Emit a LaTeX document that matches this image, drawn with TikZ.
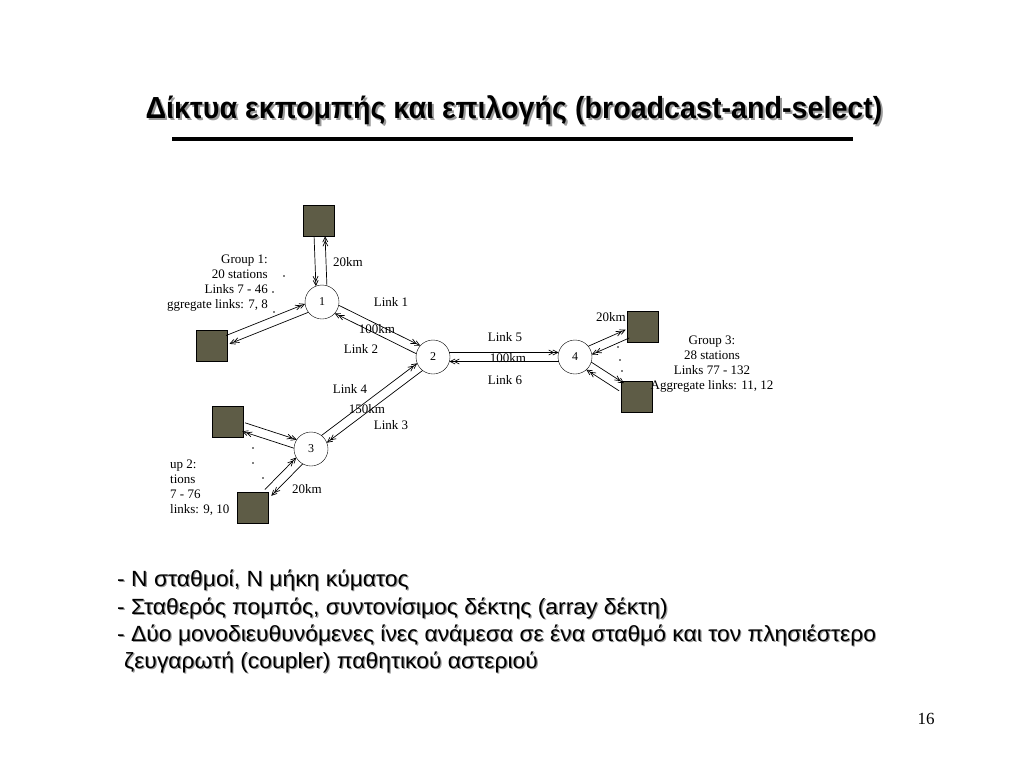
\documentclass[tikz,border=0pt]{standalone}
\usepackage{fontspec}
\setmainfont{Liberation Sans}
\newfontfamily\titlefont[FakeStretch=0.94]{Liberation Sans}
\newfontfamily\bodyfont[FakeStretch=1.04]{Liberation Sans}
\newfontfamily\figfont{Liberation Serif}
\usetikzlibrary{arrows.meta,calc}
\definecolor{StationOlive}{HTML}{5E5C46}
\definecolor{ShadowGray}{HTML}{9A9A9A}
\newcommand{\shadowed}[2][1.5pt]{\makebox[0pt][l]{\hspace{#1}\raisebox{-#1}{\textcolor{ShadowGray}{#2}}}#2}
% pair of opposite fibres: from, to, shorten at from, shorten at to, side offset
\newcommand{\duplex}[5]{%
  \draw[fibre,shorten <=#3,shorten >=#4] ($(#1)!#5!90:(#2)$) -- ($(#2)!#5!-90:(#1)$);
  \draw[fibre,shorten <=#4,shorten >=#3] ($(#2)!#5!90:(#1)$) -- ($(#1)!#5!-90:(#2)$);
}

\begin{document}
\begin{tikzpicture}[x=1pt,y=-1pt,
  coupler/.style={draw,circle,fill=white,minimum size=34pt,inner sep=0pt,font=\figfont\fontsize{12}{14}\selectfont},
  station/.style={draw,fill=StationOlive,minimum size=31pt,inner sep=0pt},
  fibre/.style={-{Straight Barb[length=5pt,width=5pt,sep=-2pt]Straight Barb[length=5pt,width=5pt]},line width=0.7pt},
  lbl/.style={font=\figfont\fontsize{13}{15}\selectfont,inner sep=0pt},
  more/.style={circle,fill=black,inner sep=0pt,minimum size=1.8pt}
]
\useasboundingbox (0,0) rectangle (1024,768);

% title
\node[anchor=base,inner sep=0pt,font=\titlefont\bfseries\fontsize{30.5}{34}\selectfont] (title) at (514,118)
  {\shadowed[2pt]{Δίκτυα εκπομπής και επιλογής (broadcast-and-select)}};
\draw[line width=4pt] (172,139) -- (853,139);

% star couplers
\node[coupler] (n1) at (322,302) {1};
\node[coupler] (n2) at (433,357) {2};
\node[coupler] (n3) at (311,449) {3};
\node[coupler] (n4) at (575,357) {4};

% stations
\node[station] (s1) at (319,221) {};
\node[station] (s2) at (212,346) {};
\node[station] (s3) at (228,422) {};
\node[station] (s4) at (253,508) {};
\node[station] (s5) at (643,327) {};
\node[station] (s6) at (637,397) {};

% fibres
\duplex{s1}{n1}{15.5pt}{16.1pt}{-5.5pt}
\duplex{s2}{n1}{17pt}{16.4pt}{4.5pt}
\duplex{n1}{n2}{16.4pt}{16.4pt}{4.5pt}
\duplex{n3}{n2}{16.4pt}{16.4pt}{4.5pt}
\duplex{n2}{n4}{16.4pt}{16.4pt}{4.5pt}
\duplex{s3}{n3}{16.4pt}{16.4pt}{4.5pt}
\duplex{s4}{n3}{21.5pt}{16.4pt}{4.5pt}
\duplex{n4}{s5}{16.4pt}{17pt}{4.5pt}
\duplex{n4}{s6}{16.4pt}{18.4pt}{4.5pt}

% labels
\node[lbl] (d1) at (348,262) {20km};
\node[lbl] (l1) at (391,302) {Link 1};
\node[lbl] (d12) at (377,329) {100km};
\node[lbl] (l2) at (361,349) {Link 2};
\node[lbl] (l4) at (350,389) {Link 4};
\node[lbl] (d23) at (367,409) {150km};
\node[lbl] (l3) at (391,425) {Link 3};
\node[lbl] (l5) at (505,337) {Link 5};
\node[lbl] (d24) at (508,358) {100km};
\node[lbl] (l6) at (505,380) {Link 6};
\node[lbl] (d5) at (611,317) {20km};
\node[lbl] (d4) at (307,489) {20km};

\node[lbl,align=right,anchor=north east] (g1) at (268,255)
  {Group 1:\\20 stations\\Links 7 - 46\\ggregate links: 7, 8};
\node[lbl,align=left,anchor=north west] (g2) at (170,460)
  {up 2:\\tions\\7 - 76\\links: 9, 10};
\node[lbl,align=center,anchor=north] (g3) at (712,336)
  {Group 3:\\28 stations\\Links 77 - 132\\Aggregate links: 11, 12};

% more stations
\foreach \p [count=\i] in {(284,276),(273,292),(274,312),(253,448),(253,463),(263,478),(618,347),(620,360),(622,371)}
  \node[more] (m\i) at \p {};

% bullet text
\node[anchor=north west,align=left,inner sep=0pt,font=\bodyfont\fontsize{22}{27.3}\selectfont] (notes) at (117,570)
  {\shadowed[1.2pt]{- Ν σταθμοί, Ν μήκη κύματος}\\
   \shadowed[1.2pt]{- Σταθερός πομπός, συντονίσιμος δέκτης (array δέκτη)}\\
   \shadowed[1.2pt]{- Δύο μονοδιευθυνόμενες ίνες ανάμεσα σε ένα σταθμό και τον πλησιέστερο}\\
   \hspace{7pt}\shadowed[1.2pt]{ζευγαρωτή (coupler) παθητικού αστεριού}};

\node[anchor=base,inner sep=0pt,font=\figfont\fontsize{17}{20}\selectfont] (page) at (926,724) {16};
\end{tikzpicture}
\end{document}
